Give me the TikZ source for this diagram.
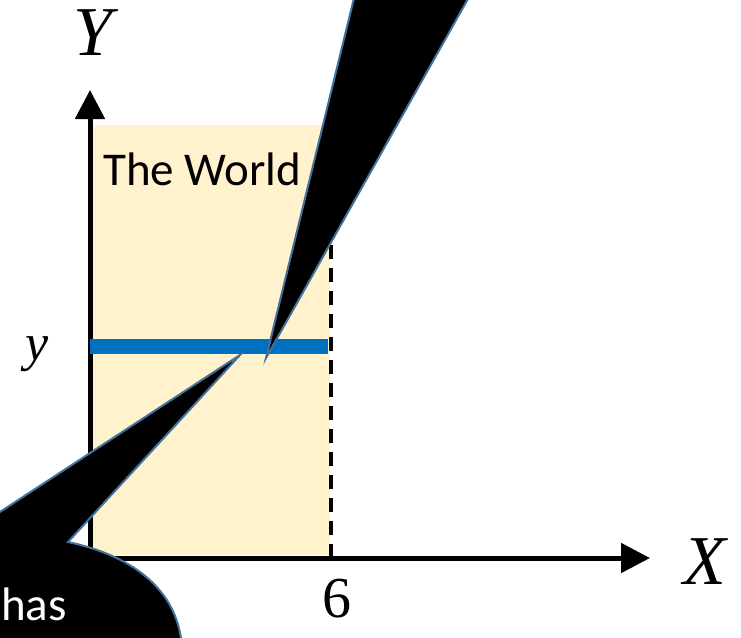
\documentclass[tikz,border=0pt]{standalone}
\usepackage{fontspec}
\setmainfont{Carlito}
\newfontfamily\labfont{Liberation Serif}
\usetikzlibrary{arrows.meta}
\definecolor{worldfill}{HTML}{FFF2CC}
\definecolor{lineblue}{HTML}{0070C0}
\definecolor{edgeblue}{HTML}{41719C}
\tikzset{
  axis/.style={line width=5pt,-{Triangle[length=29pt,width=29pt]}},
  callout/.style={fill=black,draw=edgeblue,line width=2pt,line join=miter},
  biglab/.style={font=\fontsize{70}{78}\labfont\itshape,inner sep=0pt},
  smalllab/.style={font=\fontsize{52}{58}\labfont\itshape,inner sep=0pt},
  numlab/.style={font=\fontsize{58}{64}\labfont,inner sep=0pt},
  sanslab/.style={font=\fontsize{47}{53}\selectfont,inner sep=0pt}
}
\begin{document}
\begin{tikzpicture}[x=1pt,y=-1pt]
\useasboundingbox (0,0) rectangle (741,637);
\clip (0,0) rectangle (741,637);
% world region
\fill[worldfill] (93,125) rectangle (330,555);
\node[sanslab,anchor=base west] (world) at (103,185) {The World};
% axes
\coordinate (origin) at (90,558);
\coordinate (ytip) at (90,90);
\coordinate (xstart) at (88,558);
\coordinate (xtip) at (650,558);
\draw[axis] (origin) -- (ytip);
\draw[axis] (xstart) -- (xtip);
% dashed line at 6
\coordinate (dtop) at (331,233);
\coordinate (dbot) at (331,558);
\draw[line width=4pt,dash pattern=on 14pt off 9pt] (dbot) -- (dtop);
% blue line
\coordinate (bl) at (90,346);
\coordinate (br) at (328,346);
\draw[lineblue,line width=15pt] (bl) -- (br);
% labels
\node[biglab] (Ylab) at (93,33) {Y};
\node[biglab] (Xlab) at (705,562) {X};
\node[smalllab] (ylab) at (37,354) {y};
\node[numlab,anchor=base] (six) at (337,617) {6};
% upper wedge callout
\coordinate (utip) at (266,358);
\draw[callout] (356,-10) -- (utip) -- (473,-10) -- cycle;
% lower callout
\coordinate (ltip) at (240,355);
\draw[callout] (-20,525) -- (ltip) -- (68,542) .. controls (130,555) and (185,590) .. (182,660) -- (-20,660) -- cycle;
\node[sanslab,text=white,anchor=base west] (has) at (1,620) {has};
\end{tikzpicture}
\end{document}
